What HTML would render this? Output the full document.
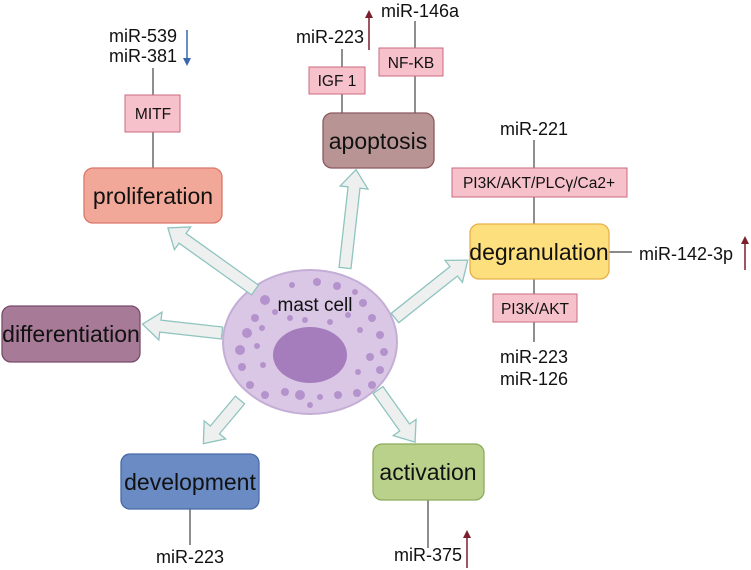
<!DOCTYPE html>
<html><head><meta charset="utf-8"><style>
html,body{margin:0;padding:0;background:#fff}
svg{display:block;font-family:"Liberation Sans",sans-serif}
</style></head><body>
<svg width="751" height="570" viewBox="0 0 751 570" xmlns="http://www.w3.org/2000/svg">
<defs>
<marker id="ar" markerWidth="8" markerHeight="8" refX="4" refY="4" orient="auto" markerUnits="userSpaceOnUse"><path d="M0,0 L8,4 L0,8 z" fill="#7a1f2b"/></marker>
<marker id="ab" markerWidth="8" markerHeight="8" refX="4" refY="4" orient="auto" markerUnits="userSpaceOnUse"><path d="M0,0 L8,4 L0,8 z" fill="#3a66b0"/></marker>
</defs>
<g stroke="#444" stroke-width="1.2">
<line x1="153" y1="68" x2="153" y2="95"/><line x1="153" y1="132" x2="153" y2="168"/>
<line x1="342" y1="49" x2="342" y2="67"/><line x1="342" y1="94" x2="342" y2="113"/>
<line x1="415" y1="21" x2="415" y2="48"/><line x1="415" y1="76" x2="415" y2="113"/>
<line x1="534" y1="140" x2="534" y2="168"/><line x1="534" y1="197" x2="534" y2="224"/>
<line x1="534" y1="279" x2="534" y2="294"/><line x1="534" y1="322" x2="534" y2="342"/>
<line x1="609" y1="252" x2="632" y2="252"/>
<line x1="190" y1="509" x2="190" y2="545"/>
<line x1="428" y1="500" x2="428" y2="548"/>
</g>
<line x1="187" y1="30" x2="187" y2="62" stroke="#3a66b0" stroke-width="1.5" marker-end="url(#ab)"/>
<line x1="369" y1="50" x2="369" y2="14" stroke="#7a1f2b" stroke-width="1.5" marker-end="url(#ar)"/>
<line x1="745" y1="270" x2="745" y2="240" stroke="#7a1f2b" stroke-width="1.5" marker-end="url(#ar)"/>
<line x1="467" y1="568" x2="467" y2="534" stroke="#7a1f2b" stroke-width="1.5" marker-end="url(#ar)"/>
<!-- cell -->
<ellipse cx="310" cy="342" rx="87" ry="72" fill="#dac7e6" stroke="#c4aed6" stroke-width="2"/>
<g fill="#b493cc">
<circle cx="317" cy="282" r="4"/><circle cx="292" cy="285" r="3"/><circle cx="337" cy="286" r="4"/><circle cx="265" cy="300" r="5"/><circle cx="355" cy="292" r="3"/><circle cx="363" cy="303" r="4"/><circle cx="255" cy="318" r="4"/><circle cx="247" cy="333" r="5"/><circle cx="372" cy="318" r="4"/><circle cx="380" cy="335" r="4"/><circle cx="240" cy="350" r="5"/><circle cx="257" cy="346" r="3"/><circle cx="384" cy="352" r="4"/><circle cx="242" cy="367" r="4"/><circle cx="370" cy="357" r="4"/><circle cx="250" cy="385" r="4"/><circle cx="380" cy="370" r="4"/><circle cx="265" cy="395" r="4"/><circle cx="372" cy="385" r="4"/><circle cx="285" cy="392" r="4"/><circle cx="300" cy="395" r="5"/><circle cx="320" cy="397" r="3"/><circle cx="338" cy="395" r="4"/><circle cx="357" cy="393" r="4"/><circle cx="275" cy="312" r="3"/><circle cx="290" cy="318" r="3"/><circle cx="305" cy="320" r="3"/><circle cx="330" cy="322" r="3"/><circle cx="348" cy="315" r="3"/><circle cx="262" cy="328" r="3"/><circle cx="360" cy="330" r="3"/><circle cx="263" cy="365" r="3"/><circle cx="358" cy="372" r="3"/><circle cx="310" cy="405" r="3"/>
</g>
<ellipse cx="310" cy="355" rx="37" ry="28" fill="#a57dbd"/>
<text x="315" y="311" font-size="19" text-anchor="middle" fill="#111">mast cell</text>
<!-- arrows -->
<g fill="#eef0ef" stroke="#8fc4bf" stroke-width="1.3">
<polygon transform="translate(255,290) rotate(215.5)" points="0,-6 89,-6 89,-14 107,0 89,14 89,6 0,6"/>
<polygon transform="translate(345,268) rotate(-83.6)" points="0,-6 81,-6 81,-14 99,0 81,14 81,6 0,6"/>
<polygon transform="translate(395,318) rotate(-38.5)" points="0,-6 75,-6 75,-14 93,0 75,14 75,6 0,6"/>
<polygon transform="translate(222,333) rotate(186.4)" points="0,-6 62,-6 62,-14 80,0 62,14 62,6 0,6"/>
<polygon transform="translate(240,400) rotate(130)" points="0,-6 39,-6 39,-14 57,0 39,14 39,6 0,6"/>
<polygon transform="translate(378,390) rotate(54.6)" points="0,-6 46,-6 46,-14 64,0 46,14 46,6 0,6"/>
</g>
<!-- main boxes -->
<g stroke-width="1.3">
<rect x="84" y="168" width="138" height="55" rx="9" fill="#f2a898" stroke="#d9786a"/>
<rect x="323" y="113" width="111" height="55" rx="9" fill="#b99494" stroke="#8a5a60"/>
<rect x="470" y="224" width="139" height="55" rx="9" fill="#fddf7e" stroke="#e7b04a"/>
<rect x="2" y="306" width="138" height="56" rx="9" fill="#a77a97" stroke="#7a4c6c"/>
<rect x="121" y="454" width="138" height="55" rx="9" fill="#6a8bc4" stroke="#4a6aa6"/>
<rect x="373" y="444" width="111" height="56" rx="9" fill="#b9d18b" stroke="#8bab5c"/>
</g>
<g font-size="23" text-anchor="middle" fill="#111">
<text x="153" y="204">proliferation</text>
<text x="378" y="149">apoptosis</text>
<text x="539" y="260">degranulation</text>
<text x="71" y="342">differentiation</text>
<text x="190" y="490">development</text>
<text x="428" y="480">activation</text>
</g>
<!-- small boxes -->
<g fill="#f6c1cb" stroke="#c96b7e" stroke-width="1">
<rect x="125" y="95" width="55" height="37"/>
<rect x="309" y="67" width="56" height="27"/>
<rect x="379" y="48" width="64" height="28"/>
<rect x="452" y="168" width="175" height="29"/>
<rect x="493" y="294" width="84" height="28"/>
</g>
<g font-size="15.5" text-anchor="middle" fill="#111">
<text x="153" y="119">MITF</text>
<text x="337" y="86">IGF 1</text>
<text x="411" y="68">NF-KB</text>
<text x="539" y="188">PI3K/AKT/PLCγ/Ca2+</text>
<text x="535" y="314">PI3K/AKT</text>
</g>
<g font-size="18" fill="#111" text-anchor="middle">
<text x="143" y="42">miR-539</text>
<text x="143" y="62">miR-381</text>
<text x="330" y="43">miR-223</text>
<text x="420" y="17">miR-146a</text>
<text x="534" y="135">miR-221</text>
<text x="534" y="363">miR-223</text>
<text x="534" y="385">miR-126</text>
<text x="686" y="260">miR-142-3p</text>
<text x="190" y="563">miR-223</text>
<text x="428" y="561">miR-375</text>
</g>
</svg>
</body></html>
